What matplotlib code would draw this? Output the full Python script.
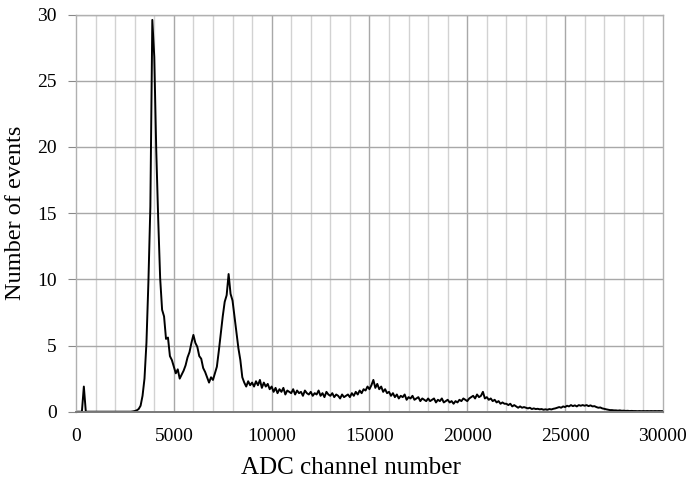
#!/usr/bin/env python3
"""Pulse-height spectrum: events per ADC channel."""

import matplotlib

matplotlib.use("Agg")
import matplotlib.pyplot as plt
import numpy as np


# channel bins, 100 ADC channels wide
channel = np.arange(0, 30100, 100)

# counts per bin, one row per 1000 channels
events = [
    0, 0, 0, 0, 1.9, 0, 0, 0, 0, 0,
    0, 0, 0, 0, 0, 0, 0, 0, 0, 0,
    0, 0, 0, 0, 0, 0, 0, 0, 0, 0.02,
    0.05, 0.1, 0.2, 0.45, 1.2, 2.5, 5.2, 9.8, 15.5, 29.6,
    26.8, 19.8, 14.6, 10.1, 7.7, 7.2, 5.5, 5.6, 4.2, 3.9,
    3.4, 2.9, 3.2, 2.5, 2.8, 3.1, 3.5, 4.1, 4.5, 5.2,
    5.8, 5.2, 4.9, 4.2, 4.0, 3.3, 3.0, 2.6, 2.2, 2.6,
    2.4, 2.9, 3.4, 4.6, 5.9, 7.2, 8.3, 8.8, 10.4, 8.9,
    8.4, 7.2, 6.0, 4.8, 3.9, 2.6, 2.2, 1.9, 2.3, 2.0,
    2.2, 1.9, 2.3, 2.0, 2.4, 1.8, 2.2, 1.9, 2.1, 1.7,
    1.9, 1.5, 1.8, 1.4, 1.7, 1.5, 1.8, 1.3, 1.6, 1.5,
    1.4, 1.7, 1.3, 1.6, 1.4, 1.5, 1.2, 1.6, 1.4, 1.3,
    1.5, 1.2, 1.4, 1.3, 1.6, 1.2, 1.4, 1.1, 1.5, 1.3,
    1.2, 1.4, 1.1, 1.3, 1.2, 1.0, 1.3, 1.1, 1.2, 1.3,
    1.1, 1.4, 1.2, 1.5, 1.3, 1.6, 1.4, 1.7, 1.6, 1.9,
    1.7, 2.0, 2.4, 1.8, 2.1, 1.7, 1.9, 1.5, 1.7, 1.4,
    1.5, 1.2, 1.4, 1.1, 1.3, 1.0, 1.2, 1.1, 1.3, 0.9,
    1.1, 1.0, 1.2, 0.9, 1.0, 1.1, 0.8, 1.0, 0.9, 0.8,
    1.0, 0.8, 0.9, 1.0, 0.7, 0.9, 0.8, 1.0, 0.7, 0.8,
    0.9, 0.7, 0.8, 0.6, 0.8, 0.7, 0.9, 0.8, 1.0, 0.9,
    0.8, 1.0, 1.1, 1.2, 1.0, 1.3, 1.1, 1.2, 1.5, 1.0,
    1.1, 0.9, 1.0, 0.8, 0.9, 0.7, 0.8, 0.6, 0.7, 0.6,
    0.6, 0.5, 0.6, 0.4, 0.5, 0.4, 0.3, 0.4, 0.3, 0.35,
    0.3, 0.25, 0.3, 0.2, 0.25, 0.2, 0.22, 0.18, 0.2, 0.15,
    0.18, 0.15, 0.2, 0.17, 0.22, 0.25, 0.3, 0.35, 0.3, 0.4,
    0.35, 0.45, 0.4, 0.5, 0.42, 0.48, 0.4, 0.5, 0.45, 0.5,
    0.45, 0.5, 0.42, 0.48, 0.4, 0.42, 0.35, 0.3, 0.32, 0.25,
    0.22, 0.18, 0.15, 0.12, 0.12, 0.1, 0.1, 0.08, 0.1, 0.07,
    0.08, 0.06, 0.07, 0.05, 0.06, 0.05, 0.05, 0.04, 0.05, 0.04,
    0.05, 0.04, 0.05, 0.04, 0.05, 0.04, 0.05, 0.04, 0.05, 0.04,
    0.05,
]

x_major = [0, 5000, 10000, 15000, 20000, 25000, 30000]
y_major = [0, 5, 10, 15, 20, 25, 30]

plt.rcParams.update(
    {
        "font.family": "serif",
        "font.serif": ["Liberation Serif", "Times New Roman", "DejaVu Serif"],
        "font.size": 14,
    }
)

fig = plt.figure(figsize=(6.88, 4.79), dpi=100)
ax = fig.add_axes([0.1105, 0.1405, 0.853, 0.829])

# light minor grid every 1000 channels, darker at the labelled ticks
for xv in range(1000, 30000, 1000):
    ax.axvline(xv, color="#d2d2d2" if xv % 5000 else "#a8a8a8", lw=1.0, zorder=0)
for yv in y_major[1:]:
    ax.axhline(yv, color="#a8a8a8", lw=1.0, zorder=0)

ax.plot(channel, events, color="black", lw=1.4, zorder=2)

ax.set_xlim(0, 30000)
ax.set_ylim(0, 30)
ax.set_xticks(x_major)
ax.set_yticks(y_major)
ax.tick_params(axis="x", length=0, pad=12, labelsize=14)
ax.tick_params(axis="y", length=6, color="#888888", pad=8, labelsize=14)

for side in ["top", "right", "left"]:
    ax.spines[side].set_color("#b0b0b0")
    ax.spines[side].set_linewidth(1.0)
ax.spines["bottom"].set_color("#7a7a7a")
ax.spines["bottom"].set_linewidth(1.4)
ax.spines["bottom"].set_zorder(4)

ax.set_xlabel("ADC channel number", fontsize=18)
ax.xaxis.set_label_coords(0.469, -0.115)
ax.set_ylabel("Number of events", fontsize=17.5, labelpad=8)

fig.savefig("out.png", dpi=100, facecolor="white")
plt.close(fig)
